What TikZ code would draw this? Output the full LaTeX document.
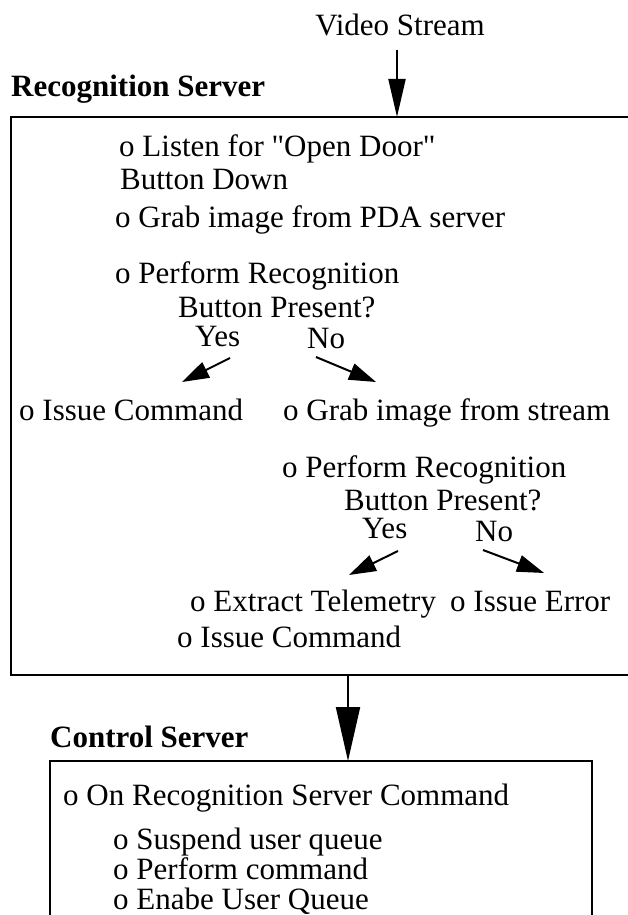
\documentclass[tikz,border=0pt]{standalone}
\usepackage{fontspec}
\setmainfont{Liberation Serif}[Ligatures=TeXOff]
\usetikzlibrary{arrows.meta}
\begin{document}
\begin{tikzpicture}[x=1pt,y=-1pt,
  txt/.style={anchor=base west,inner sep=0pt,font=\fontsize{31}{32}\selectfont},
  ttl/.style={anchor=base west,inner sep=0pt,font=\fontsize{31}{32}\selectfont\bfseries},
  box/.style={draw,line width=2pt},
  bigarrow/.style={line width=2pt,-{Triangle[length=38pt,width=17pt]}},
  hugearrow/.style={line width=2pt,-{Triangle[length=54pt,width=24pt]}},
  smallarrow/.style={line width=2pt,-{Triangle[length=27pt,width=17pt]}}]
\useasboundingbox (0,0) rectangle (628,915);
% top
\node[txt,anchor=base] (vs) at (400,36) {Video Stream};
\node[ttl] (rs) at (11,97) {Recognition Server};
\draw[box] (11,117) rectangle (640,675);
\coordinate (rstop) at (397,117);
\coordinate (vsbot) at (397,50);
\draw[bigarrow] (vsbot) -- (rstop);
% recognition server contents
\node[txt] (l1) at (119,156) {o Listen for "Open Door"};
\node[txt] (l2) at (120,189) {Button Down};
\node[txt] (l3) at (115,227) {o Grab image from PDA server};
\node[txt] (l4) at (115,283) {o Perform Recognition};
\node[txt] (l5) at (178,317) {Button Present?};
\node[txt] (y1) at (195,346) {Yes};
\node[txt] (n1) at (307,348) {No};
\node[txt] (ic1) at (19,420) {o Issue Command};
\node[txt] (gs) at (283,420) {o Grab image from stream};
\coordinate (y1a) at (230,358);
\coordinate (y1b) at (182,382);
\coordinate (n1a) at (316,357);
\coordinate (n1b) at (376,382);
\draw[smallarrow] (y1a) -- (y1b);
\draw[smallarrow] (n1a) -- (n1b);
\node[txt] (p2) at (282,477) {o Perform Recognition};
\node[txt] (b2) at (344,510) {Button Present?};
\node[txt] (y2) at (362,538) {Yes};
\node[txt] (n2) at (475,541) {No};
\coordinate (y2a) at (398,551);
\coordinate (y2b) at (349,575);
\coordinate (n2a) at (483,550);
\coordinate (n2b) at (544,573);
\draw[smallarrow] (y2a) -- (y2b);
\draw[smallarrow] (n2a) -- (n2b);
\node[txt] (et) at (190,611) {o Extract Telemetry};
\node[txt] (ie) at (450,611) {o Issue Error};
\node[txt] (ic2) at (177,647) {o Issue Command};
% control server
\coordinate (rsbot) at (348,675);
\coordinate (cstop) at (348,761);
\draw[hugearrow] (rsbot) -- (cstop);
\node[ttl] (cs) at (50,747) {Control Server};
\draw[box] (50,761) rectangle (592,935);
\node[txt] (c1) at (63,805) {o On Recognition Server Command};
\node[txt] (c2) at (113,849) {o Suspend user queue};
\node[txt] (c3) at (113,879) {o Perform command};
\node[txt] (c4) at (113,909) {o Enabe User Queue};
\end{tikzpicture}
\end{document}
